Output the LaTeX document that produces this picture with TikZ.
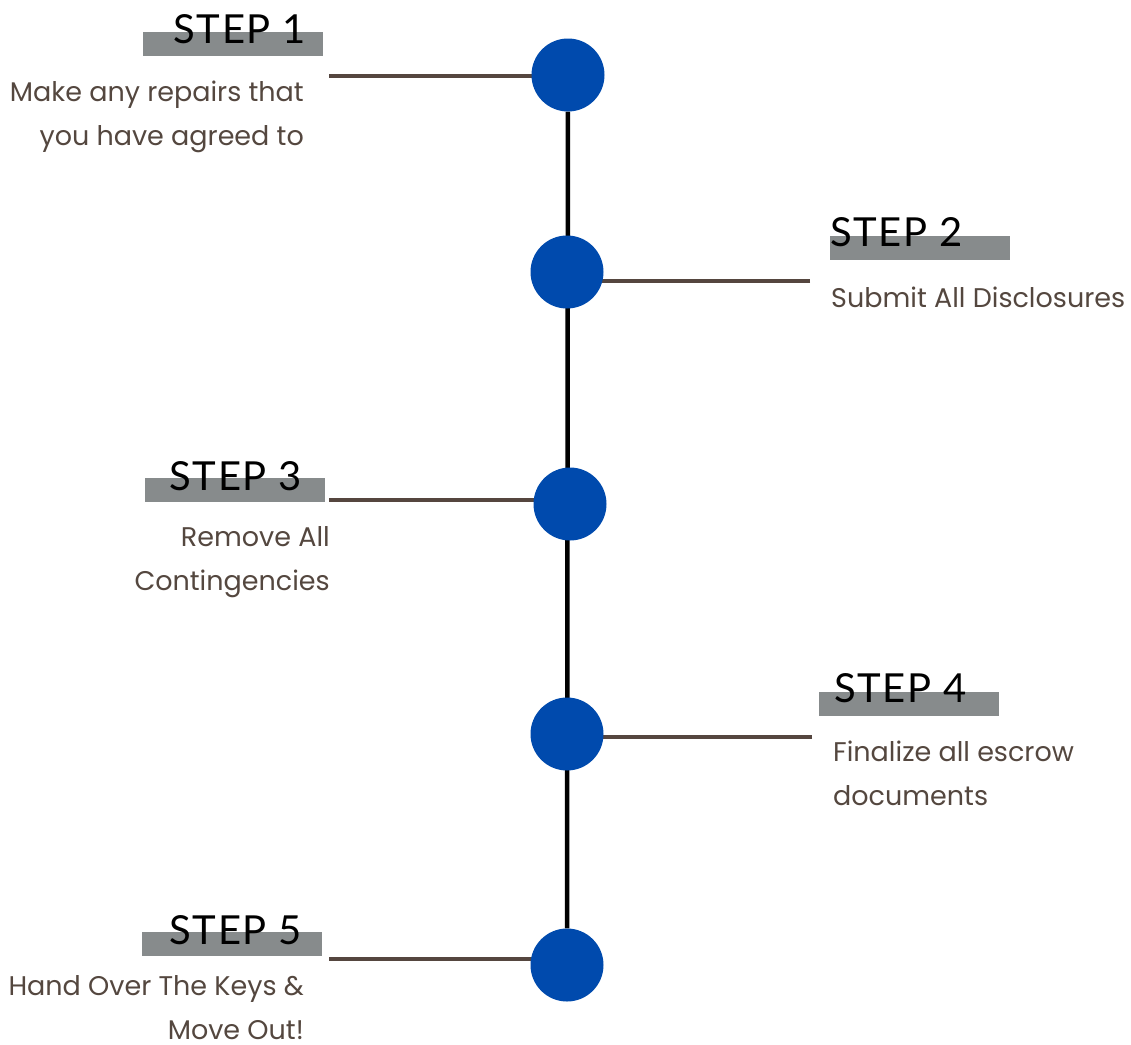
\documentclass[tikz,border=0pt]{standalone}
\usepackage{fontspec}
\newfontfamily\notefont{Poppins}
\newfontfamily\titlefont[LetterSpace=4]{Lato}
\usetikzlibrary{backgrounds}
\definecolor{dotblue}{HTML}{004AAD}
\definecolor{linkbrown}{HTML}{55463F}
\definecolor{bargray}{HTML}{878B8C}
\definecolor{notebrown}{HTML}{54473F}
\tikzset{
  stepdot/.style={circle,fill=dotblue,minimum size=73pt,inner sep=0pt},
  stepbar/.style={fill=bargray,minimum width=180pt,minimum height=24pt,inner sep=0pt,anchor=north west},
  steptitle/.style={font=\titlefont\fontsize{40}{48}\selectfont,inner sep=0pt},
  stepnote/.style={font=\notefont\fontsize{27}{44}\selectfont,text=notebrown,inner sep=0pt},
  linkline/.style={linkbrown,line width=4.7pt},
  spine/.style={black,line width=4.5pt},
}
\begin{document}
\begin{tikzpicture}[x=1pt,y=-1pt]
\useasboundingbox (0,0) rectangle (1131,1044);
%% ===== dots on the spine =====
\node[stepdot] (d1) at (568,75)  {};
\node[stepdot] (d2) at (567,272) {};
\node[stepdot] (d3) at (570,504) {};
\node[stepdot] (d4) at (567,734) {};
\node[stepdot] (d5) at (567,965) {};

%% ===== grey bars under the titles =====
\node[stepbar] (b1) at (143,32)  {};
\node[stepbar] (b2) at (830,236) {};
\node[stepbar] (b3) at (145,478) {};
\node[stepbar] (b4) at (819,692) {};
\node[stepbar] (b5) at (142,932) {};

%% ===== titles =====
\node[steptitle,anchor=base east] (t1) at (306,43)  {STEP 1};
\node[steptitle,anchor=base west] (t2) at (830,246) {STEP 2};
\node[steptitle,anchor=base east] (t3) at (302,490) {STEP 3};
\node[steptitle,anchor=base west] (t4) at (834,702) {STEP 4};
\node[steptitle,anchor=base east] (t5) at (302,944) {STEP 5};

%% ===== notes (base = last line) =====
\node[stepnote,anchor=base east,align=right] (n1) at (304,145) {Make any repairs that\\you have agreed to};
\node[stepnote,anchor=base west,align=left]  (n2) at (831,307) {Submit All Disclosures};
\node[stepnote,anchor=base east,align=right] (n3) at (330,590) {Remove All\\Contingencies};
\node[stepnote,anchor=base west,align=left]  (n4) at (833,805) {Finalize all escrow\\documents};
\node[stepnote,anchor=base east,align=right] (n5) at (304,1039) {Hand Over The Keys \&\\Move Out!};

%% free ends of the links
\coordinate (l1) at (329,76);
\coordinate (l2) at (810,281);
\coordinate (l3) at (329,500);
\coordinate (l4) at (812,737);
\coordinate (l5) at (329,959);

\begin{scope}[on background layer]
\draw[spine] (d1) -- (d5);
\draw[linkline] (l1) -- (d1.center |- l1);
\draw[linkline] (l2) -- (d2.center |- l2);
\draw[linkline] (l3) -- (d3.center |- l3);
\draw[linkline] (l4) -- (d4.center |- l4);
\draw[linkline] (l5) -- (d5.center |- l5);
\end{scope}
\end{tikzpicture}
\end{document}
